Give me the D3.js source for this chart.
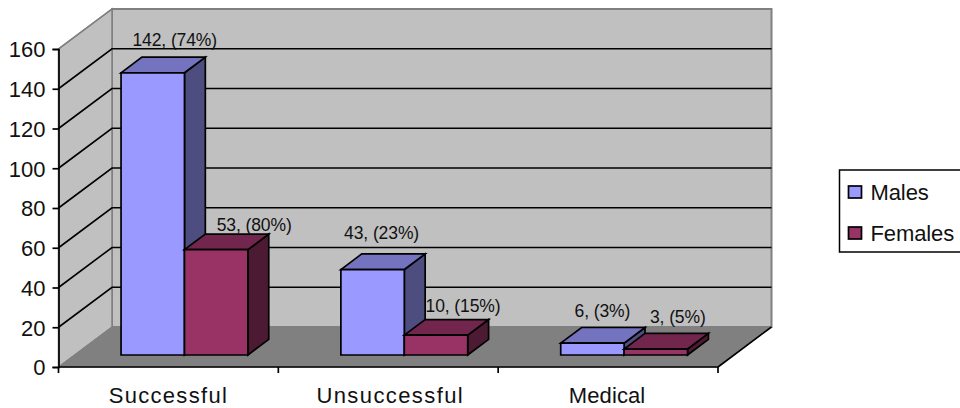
<!DOCTYPE html>
<html>
<head>
<meta charset="utf-8">
<script src="https://cdn.jsdelivr.net/npm/d3@7/dist/d3.min.js"></script>
<style>
html,body{margin:0;padding:0;background:#fff}
svg{display:block}
text{font-family:"Liberation Sans",Arial,sans-serif;fill:#111}
</style>
</head>
<body>
<svg id="chart" width="960" height="408"></svg>
<script>
const categories = ["Successful", "Unsuccessful", "Medical"];
const seriesNames = ["Males", "Females"];
const males = [142, 43, 6];
const females = [53, 10, 3];
const malePct = [74, 23, 3];
const femalePct = [80, 15, 5];
const yTicks = [0, 20, 40, 60, 80, 100, 120, 140, 160];

// Oblique projection: z 0 is the front of the floor, z 1 the back wall.
const depth = {dx: 53.5, dy: -40};
const svg = d3.select("#chart");
const x = d3.scaleBand().domain(categories).range([58.5, 718]);
const barGap = 46.5;
const xBar = d3.scaleBand().domain(seriesNames).range([barGap, x.bandwidth() - barGap]);
const y = d3.scaleLinear().domain([0, 160]).range([367, 49]);
const P = (px, v, z) => [px + depth.dx * z, y(v) + depth.dy * z];
const poly = pts => d3.line()(pts) + "Z";

const palette = {
  Males: {front: "#9999ff", top: "#7373bf", side: "#4d4d80"},
  Females: {front: "#993366", top: "#73264d", side: "#4d1a33"}
};

const x0 = x.range()[0], x1 = x.range()[1];

// Back wall, side wall and floor
svg.append("path").attr("d", poly([P(x0,0,1), P(x1,0,1), P(x1,160,1), P(x0,160,1)]))
  .attr("fill", "#c0c0c0").attr("stroke", "#808080").attr("stroke-width", 2);
svg.append("path").attr("d", poly([P(x0,0,0), P(x0,0,1), P(x0,160,1), P(x0,160,0)]))
  .attr("fill", "#c0c0c0").attr("stroke", "#808080").attr("stroke-width", 1.5);
svg.append("path").attr("d", poly([P(x0,0,0), P(x1,0,0), P(x1,0,1), P(x0,0,1)]))
  .attr("fill", "#808080").attr("stroke", "#808080").attr("stroke-width", 1);

// Gridlines run along the side wall and across the back wall
const gridLine = d3.line();
svg.append("g").selectAll("path").data(yTicks.filter(t => t > 0 && t < 160)).join("path")
  .attr("d", t => gridLine([P(x0,t,0), P(x0,t,1), P(x1,t,1)]))
  .attr("fill", "none").attr("stroke", "#000").attr("stroke-width", 1.6);
svg.append("path").attr("d", gridLine([P(x0,160,0), P(x0,160,1)]))
  .attr("fill", "none").attr("stroke", "#808080").attr("stroke-width", 1.5);

// Right floor edge
svg.append("path").attr("d", gridLine([P(x1,0,1), P(x1,0,0)]))
  .attr("fill", "none").attr("stroke", "#000").attr("stroke-width", 1.6);

// Bars, each a front, top and side face
const zFront = 0.3, zBack = 0.69;
const rows = categories.flatMap((c, i) => [
  {c, s: "Males", v: males[i], pct: malePct[i]},
  {c, s: "Females", v: females[i], pct: femalePct[i]}
]);
const bars = svg.append("g").selectAll("g").data(rows).join("g")
  .attr("stroke", "#000").attr("stroke-width", 1.7).attr("stroke-linejoin", "miter");
const left = d => x(d.c) + xBar(d.s);
const right = d => left(d) + xBar.bandwidth();
bars.append("path").attr("fill", d => palette[d.s].side)
  .attr("d", d => poly([P(right(d),0,zFront), P(right(d),0,zBack), P(right(d),d.v,zBack), P(right(d),d.v,zFront)]));
bars.append("path").attr("fill", d => palette[d.s].top)
  .attr("d", d => poly([P(left(d),d.v,zFront), P(right(d),d.v,zFront), P(right(d),d.v,zBack), P(left(d),d.v,zBack)]));
bars.append("path").attr("fill", d => palette[d.s].front)
  .attr("d", d => poly([P(left(d),0,zFront), P(right(d),0,zFront), P(right(d),d.v,zFront), P(left(d),d.v,zFront)]));

// Data labels sit above the back top edge of the bar, each with its own nudge
const labelNudge = [[22, -11], [38, -3.5], [9, -14.5], [27, -8], [10, -10], [22, -10]];
svg.append("g").selectAll("text").data(rows).join("text")
  .attr("x", (d, i) => P((left(d) + right(d)) / 2, d.v, zFront)[0] + labelNudge[i][0])
  .attr("y", (d, i) => P(left(d), d.v, zBack)[1] + labelNudge[i][1])
  .attr("text-anchor", "middle").attr("font-size", 17.5).attr("letter-spacing", "-0.1")
  .text(d => `${d.v}, (${d.pct}%)`);

// Axes
const yAxis = svg.append("g").attr("transform", `translate(${x0},0)`)
  .call(d3.axisLeft(y).tickValues(yTicks).tickSize(6).tickPadding(7));
const xAxis = svg.append("g").attr("transform", `translate(0,${y(0)})`)
  .call(d3.axisBottom(x).tickSize(0).tickPadding(20));
[yAxis, xAxis].forEach(a => {
  a.selectAll("path.domain").attr("stroke", "#000").attr("stroke-width", 1.7);
  a.selectAll(".tick line").attr("stroke", "#000").attr("stroke-width", 1.7);
  a.selectAll("text").attr("font-size", 22).attr("font-family", '"Liberation Sans",Arial,sans-serif').attr("fill", "#111");
});
yAxis.selectAll(".tick text").attr("dy", "0.36em");
const categorySpacing = [1.3, 1.4, 0.1];
const categoryShift = [0, 2, -1];
xAxis.selectAll(".tick text")
  .attr("letter-spacing", (d, i) => categorySpacing[i])
  .attr("dx", (d, i) => categoryShift[i]);
xAxis.select("path.domain").attr("d", `M${x0},0H${x1}`);
xAxis.selectAll("line.sep").data(d3.range(categories.length + 1)).join("line").attr("class", "sep")
  .attr("x1", i => x0 + i * x.bandwidth()).attr("x2", i => x0 + i * x.bandwidth())
  .attr("y1", 0).attr("y2", 6).attr("stroke", "#000").attr("stroke-width", 1.7);

// Legend
const legend = svg.append("g").attr("transform", "translate(839.5,170)");
legend.append("rect").attr("width", 122).attr("height", 82)
  .attr("fill", "#fff").attr("stroke", "#000").attr("stroke-width", 1.5);
const items = legend.selectAll("g").data(seriesNames).join("g")
  .attr("transform", (d, i) => `translate(0,${22 + i * 41})`);
items.append("rect").attr("x", 9).attr("y", -6).attr("width", 13).attr("height", 12)
  .attr("fill", d => palette[d].front).attr("stroke", "#000").attr("stroke-width", 1.7);
items.append("text").attr("x", 31).attr("y", 0).attr("dy", "0.36em")
  .attr("font-size", 22).attr("letter-spacing", "-0.1").text(d => d);
</script>
</body>
</html>
